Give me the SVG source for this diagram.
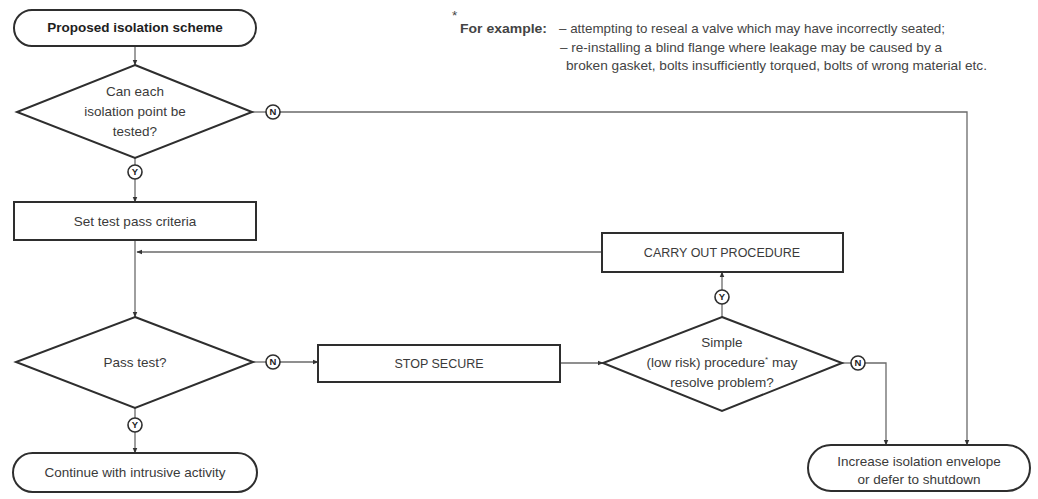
<svg xmlns="http://www.w3.org/2000/svg" width="1038" height="499" viewBox="0 0 1038 499">
<style>
  .shape{fill:#fff;stroke:#2e2e2e;stroke-width:2}
  .conn{fill:none;stroke:#6a6a6a;stroke-width:1.3}
  .t{font-family:"Liberation Sans",Arial,sans-serif;font-size:13.5px;fill:#3a3a3a;text-anchor:middle}
  .u{font-size:12.5px}
  .b{font-weight:bold;fill:#1e1e1e}
  .yn circle{fill:#fff;stroke:#2e2e2e;stroke-width:1.6}
  .yn text{font-family:"Liberation Sans",Arial,sans-serif;font-size:9.5px;font-weight:bold;fill:#222;text-anchor:middle}
  .note{font-family:"Liberation Sans",Arial,sans-serif;font-size:13.5px;fill:#444}
</style>
<defs>
  <marker id="arr" viewBox="0 0 10 10" refX="9" refY="5" markerWidth="6" markerHeight="6" orient="auto" markerUnits="userSpaceOnUse">
    <path d="M0,1 L10,5 L0,9 z" fill="#333"/>
  </marker>
</defs>
<rect width="1038" height="499" fill="#fff"/>

<g id="connectors">
  <line class="conn" x1="135" y1="46" x2="135" y2="65" marker-end="url(#arr)"/>
  <line class="conn" x1="135" y1="158" x2="135" y2="165"/>
  <line class="conn" x1="135" y1="179" x2="135" y2="202" marker-end="url(#arr)"/>
  <line class="conn" x1="252" y1="112" x2="266" y2="112"/>
  <polyline class="conn" points="280,112 967,112 967,445" marker-end="url(#arr)"/>
  <line class="conn" x1="135" y1="240" x2="135" y2="317" marker-end="url(#arr)"/>
  <line class="conn" x1="602" y1="252" x2="137" y2="252" marker-end="url(#arr)"/>
  <line class="conn" x1="253" y1="362" x2="266" y2="362"/>
  <line class="conn" x1="280" y1="362" x2="318" y2="362" marker-end="url(#arr)"/>
  <line class="conn" x1="135" y1="408" x2="135" y2="418"/>
  <line class="conn" x1="135" y1="432" x2="135" y2="453" marker-end="url(#arr)"/>
  <line class="conn" x1="560" y1="363" x2="603" y2="363" marker-end="url(#arr)"/>
  <line class="conn" x1="722" y1="317" x2="722" y2="304"/>
  <line class="conn" x1="722" y1="290" x2="722" y2="272" marker-end="url(#arr)"/>
  <line class="conn" x1="842" y1="363" x2="851" y2="363"/>
  <polyline class="conn" points="865,363 886,363 886,445" marker-end="url(#arr)"/>
</g>

<g id="n-start">
  <rect class="shape" x="14" y="10" width="242" height="36" rx="18"/>
  <text class="t b" x="135" y="32">Proposed isolation scheme</text>
</g>

<g id="n-canTest">
  <polygon class="shape" points="135,65 252,112 135,158 17,112"/>
  <text class="t" x="135" y="96">Can each</text>
  <text class="t" x="135" y="116">isolation point be</text>
  <text class="t" x="135" y="136">tested?</text>
</g>

<g id="n-setCriteria">
  <rect class="shape" x="14" y="202" width="242" height="38"/>
  <text class="t" x="135" y="226">Set test pass criteria</text>
</g>

<g id="n-passTest">
  <polygon class="shape" points="135,317 253,362 135,408 16,362"/>
  <text class="t" x="135" y="367">Pass test?</text>
</g>

<g id="n-continue">
  <rect class="shape" x="13" y="453" width="244" height="39" rx="19.5"/>
  <text class="t" x="135" y="477">Continue with intrusive activity</text>
</g>

<g id="n-stopSecure">
  <rect class="shape" x="318" y="345" width="242" height="37"/>
  <text class="t u" x="439" y="368">STOP SECURE</text>
</g>

<g id="n-simple">
  <polygon class="shape" points="722,317 842,363 722,411 603,363"/>
  <text class="t" x="722" y="347">Simple</text>
  <text class="t" x="722" y="367">(low risk) procedure<tspan font-size="8" dy="-5">*</tspan><tspan dy="5"> may</tspan></text>
  <text class="t" x="722" y="387">resolve problem?</text>
</g>

<g id="n-carryOut">
  <rect class="shape" x="602" y="233" width="241" height="39"/>
  <text class="t u" x="722" y="257">CARRY OUT PROCEDURE</text>
</g>

<g id="n-increase">
  <rect class="shape" x="808" y="445" width="222" height="46" rx="23"/>
  <text class="t" x="919" y="466">Increase isolation envelope</text>
  <text class="t" x="919" y="484">or defer to shutdown</text>
</g>

<g id="labels" class="yn">
  <circle cx="273" cy="112" r="7"/><text x="273" y="115.4">N</text>
  <circle cx="135" cy="172" r="7"/><text x="135" y="175.4">Y</text>
  <circle cx="273" cy="362" r="7"/><text x="273" y="365.4">N</text>
  <circle cx="135" cy="425" r="7"/><text x="135" y="428.4">Y</text>
  <circle cx="722" cy="297" r="7"/><text x="722" y="300.4">Y</text>
  <circle cx="858" cy="363" r="7"/><text x="858" y="366.4">N</text>
</g>

<g id="note">
  <text class="note" x="452" y="20" font-size="8">*</text>
  <text class="note" x="460" y="33" font-weight="bold" fill="#1e1e1e" textLength="87" lengthAdjust="spacingAndGlyphs">For example:</text>
  <text class="note" x="559" y="33" textLength="386" lengthAdjust="spacingAndGlyphs">– attempting to reseal a valve which may have incorrectly seated;</text>
  <text class="note" x="560" y="52" textLength="382" lengthAdjust="spacingAndGlyphs">– re-installing a blind flange where leakage may be caused by a</text>
  <text class="note" x="566" y="70" textLength="421" lengthAdjust="spacingAndGlyphs">broken gasket, bolts insufficiently torqued, bolts of wrong material etc.</text>
</g>
</svg>
